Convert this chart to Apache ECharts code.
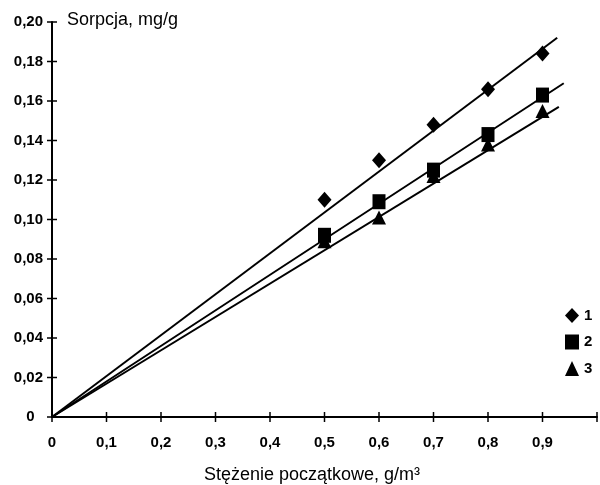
<!DOCTYPE html>
<html>
<head>
<meta charset="utf-8">
<script src="https://cdn.jsdelivr.net/npm/echarts@6/dist/echarts.min.js"></script>
<style>
  html, body { margin: 0; padding: 0; background: #fff; }
  #chart { width: 600px; height: 485px; }
</style>
</head>
<body>
<div id="chart"></div>
<script>
const concentrations = [0.5, 0.6, 0.7, 0.8, 0.9];
const sorption1 = [0.110, 0.130, 0.148, 0.166, 0.184];
const sorption2 = [0.092, 0.109, 0.125, 0.143, 0.163];
const sorption3 = [0.089, 0.101, 0.122, 0.138, 0.155];

// fitted lines through the origin: end points
const fitEndX = [0.927, 0.939, 0.930];
const fitEndY = [0.192, 0.169, 0.157];

const seriesNames = ['1', '2', '3'];
const xTicks = [0, 0.1, 0.2, 0.3, 0.4, 0.5, 0.6, 0.7, 0.8, 0.9, 1];
const yTicks = [0, 0.02, 0.04, 0.06, 0.08, 0.10, 0.12, 0.14, 0.16, 0.18, 0.20];

const yTitle = 'Sorpcja, mg/g';
const xTitle = 'Stężenie początkowe, g/m³';

const FONT = '"Liberation Sans", Arial, sans-serif';
const INK = '#000';
const TICK = 5;

const fmtX = (v) => {
  if (v === 0) return '0';
  if (Math.abs(v - xTicks[xTicks.length - 1]) < 1e-9) return '';
  return v.toFixed(1).replace('.', ',');
};
const fmtY = (v) => (v === 0 ? '0  ' : v.toFixed(2).replace('.', ','));

const labelStyle = {
  color: INK,
  fontFamily: FONT,
  fontSize: 15,
  fontWeight: 'bold'
};

const symbols = ['diamond', 'rect', 'triangle'];
const symbolSizes = [[14, 16], [13, 15], [14, 14]];
const pointSets = [sorption1, sorption2, sorption3];

const pointSeries = pointSets.map((vals, i) => ({
  name: seriesNames[i],
  type: 'scatter',
  symbol: symbols[i],
  symbolSize: symbolSizes[i],
  itemStyle: { color: INK, opacity: 1 },
  z: 3,
  data: concentrations.map((c, j) => [c, vals[j]])
}));

const fitSeries = fitEndX.map((x, i) => ({
  type: 'line',
  showSymbol: false,
  silent: true,
  lineStyle: { color: INK, width: 2 },
  z: 2,
  data: [[0, 0], [x, fitEndY[i]]]
}));

// the axes draw the ticks straight across the line: a long tick
// pushed half-way back with a negative label-free offset is not
// possible, so the tick marks are drawn by one crossing mark each
const tickMarks = (horizontal) => ({
  type: 'scatter',
  silent: true,
  clip: false,
  z: 4,
  symbol: 'rect',
  symbolSize: horizontal ? [1.5, TICK * 2] : [TICK * 2, 1.5],
  itemStyle: { color: INK, opacity: 1 },
  data: horizontal ? xTicks.map((v) => [v, 0]) : yTicks.map((v) => [0, v])
});

const chart = echarts.init(document.getElementById('chart'), null, {
  renderer: 'canvas'
});

chart.setOption({
  animation: false,
  backgroundColor: '#fff',
  grid: { left: 52, right: 3, top: 22, bottom: 68, containLabel: false },
  xAxis: {
    type: 'value',
    min: xTicks[0],
    max: xTicks[xTicks.length - 1],
    interval: 0.1,
    splitLine: { show: false },
    axisLine: { show: true, onZero: false, lineStyle: { color: INK, width: 2 } },
    axisTick: { show: false },
    axisLabel: { ...labelStyle, margin: 18, formatter: fmtX }
  },
  yAxis: {
    type: 'value',
    min: yTicks[0],
    max: yTicks[yTicks.length - 1],
    interval: 0.02,
    splitLine: { show: false },
    axisLine: { show: true, onZero: false, lineStyle: { color: INK, width: 2 } },
    axisTick: { show: false },
    axisLabel: { ...labelStyle, margin: 9, formatter: fmtY }
  },
  legend: {
    data: seriesNames.map((name, i) => ({ name, icon: symbols[i] })),
    orient: 'vertical',
    left: 560,
    top: 303,
    itemWidth: 14,
    itemHeight: 15,
    itemGap: 11.5,
    selectedMode: false,
    textStyle: labelStyle
  },
  graphic: [
    {
      type: 'text',
      left: 67,
      top: 11,
      style: {
        text: yTitle,
        fill: INK,
        font: '18px ' + FONT
      }
    },
    {
      type: 'text',
      x: 312,
      y: 475,
      style: {
        text: xTitle,
        fill: INK,
        font: '18px ' + FONT,
        textAlign: 'center',
        textVerticalAlign: 'middle'
      }
    }
  ],
  series: [...fitSeries, ...pointSeries, tickMarks(true), tickMarks(false)]
});
</script>
</body>
</html>
